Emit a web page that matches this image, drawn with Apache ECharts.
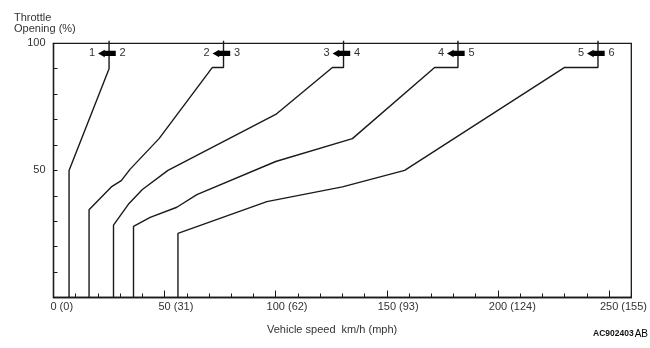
<!DOCTYPE html>
<html>
<head>
<meta charset="utf-8">
<script src="https://cdn.jsdelivr.net/npm/echarts@6/dist/echarts.min.js"></script>
<style>
html,body{margin:0;padding:0;background:#fff;}
#chart{width:650px;height:348px;}
</style>
</head>
<body>
<div id="chart"></div>
<script>
// ---- data ----
const kmTicks = [0, 50, 100, 150, 200, 250];
const mphTicks = [0, 31, 62, 93, 124, 155];
const yTickLabels = [50, 100];
const shift12 = [[7,0],[7,50],[25,90],[25,101]];
const shift23 = [[16,0],[16,34.5],[26,43.5],[30.5,46],[34.5,50.5],[47.5,62.5],[71.5,90.5],[76.5,90.5],[76.5,101]];
const shift34 = [[27,0],[27,28.5],[34,37],[40,42.5],[51.5,50],[100,72],[125.5,90.5],[130.5,90.5],[130.5,101]];
const shift45 = [[36,0],[36,28],[43.5,31.5],[55.5,35.5],[64.5,40.5],[100,53.5],[134.5,62.5],[171.5,90.5],[182,90.5],[182,101]];
const shift56 = [[56,0],[56,25.2],[96,37.7],[130,43.5],[158,50],[230,90.5],[245,90.5],[245,101]];
const arrowSpeeds = [25, 76.5, 130.5, 182, 245];
const arrowLevel = 96;
const gearFrom = ['1','2','3','4','5'];
const gearTo = ['2','3','4','5','6'];

const FONT = "'Liberation Sans', Arial, sans-serif";
const TXT = '#333';
const LINE = '#1a1a1a';

// spacer widths so the km/h number sits centred on the tick
const mc = document.createElement('canvas').getContext('2d');
mc.font = "11px " + FONT;
const rich = {};
kmTicks.forEach((k, i) => {
  rich['p' + i] = { width: mc.measureText(' (' + mphTicks[i] + ')').width, fontSize: 11, fontFamily: FONT };
});
rich.t = { fontSize: 11, fontFamily: FONT, color: TXT };

const chart = echarts.init(document.getElementById('chart'), null, { renderer: 'canvas' });

const curves = [shift12, shift23, shift34, shift45, shift56];
const series = curves.map(d => ({
  type: 'line', data: d, symbol: 'none', clip: false, animation: false,
  lineStyle: { color: LINE, width: 1.4 }, z: 3
}));
series.push({
  type: 'custom', coordinateSystem: 'cartesian2d', clip: false, animation: false, z: 5,
  data: arrowSpeeds.map((v, i) => [v, arrowLevel, i]),
  renderItem: function (params, api) {
    const c = api.coord([api.value(0), api.value(1)]);
    const i = api.value(2);
    const x = c[0], y = c[1];
    return {
      type: 'group',
      children: [
        { type: 'polygon', shape: { points: [[x-11,y],[x-4.3,y-3.8],[x-4.3,y-2.6],[x+6.7,y-2.6],[x+6.7,y+2.6],[x-4.3,y+2.6],[x-4.3,y+3.8]] },
          style: { fill: '#000' } },
        { type: 'text', style: { text: gearFrom[i], x: x-17, y: y, align: 'center', verticalAlign: 'middle', font: '11px ' + FONT, fill: TXT } },
        { type: 'text', style: { text: gearTo[i], x: x+13.5, y: y, align: 'center', verticalAlign: 'middle', font: '11px ' + FONT, fill: TXT } }
      ]
    };
  }
});

chart.setOption({
  animation: false,
  grid: { left: 53.5, right: 17.3, top: 43.3, bottom: 50.5, show: true, borderColor: LINE, borderWidth: 1.3, backgroundColor: 'transparent' },
  xAxis: {
    type: 'value', min: 0, max: 260, interval: 50,
    axisLine: { show: true, lineStyle: { color: LINE, width: 1.3 } },
    axisTick: { show: true, inside: true, length: 7, lineStyle: { color: LINE, width: 1 } },
    minorTick: { show: true, splitNumber: 5, length: 4, lineStyle: { color: LINE, width: 1 } },
    splitLine: { show: false },
    axisLabel: {
      margin: 4, showMaxLabel: false, color: TXT, fontSize: 11, fontFamily: FONT, rich: rich,
      formatter: function (v) {
        const i = kmTicks.indexOf(v);
        if (i < 0) return '';
        return '{p' + i + '|\u00a0}{t|' + kmTicks[i] + ' (' + mphTicks[i] + ')}';
      }
    }
  },
  yAxis: {
    type: 'value', min: 0, max: 100, interval: 10,
    axisLine: { show: true, lineStyle: { color: LINE, width: 1.3 } },
    axisTick: { show: true, inside: true, length: 4, lineStyle: { color: LINE, width: 1 } },
    splitLine: { show: false },
    axisLabel: {
      margin: 8, color: TXT, fontSize: 11, fontFamily: FONT,
      formatter: function (v) { return yTickLabels.indexOf(v) >= 0 ? String(v) : ''; }
    }
  },
  graphic: [
    { type: 'text', left: 14, top: 12.5, style: { text: 'Throttle\nOpening (%)', font: '11px ' + FONT, fill: TXT, lineHeight: 10.5 } },
    { type: 'text', x: 267, y: 330, style: { text: 'Vehicle speed  km/h (mph)', font: '11px ' + FONT, fill: TXT, verticalAlign: 'middle' } },
    { type: 'text', x: 593, y: 334, style: {
        text: '{a|AC902403}{b|AB}', verticalAlign: 'middle',
        rich: { a: { fontSize: 8.5, fontWeight: 'bold', fontFamily: FONT, fill: '#111', color: '#111' },
                b: { fontSize: 10, fontFamily: FONT, color: '#111', padding: [0,0,0,1] } } } }
  ],
  series: series
});
</script>
</body>
</html>
